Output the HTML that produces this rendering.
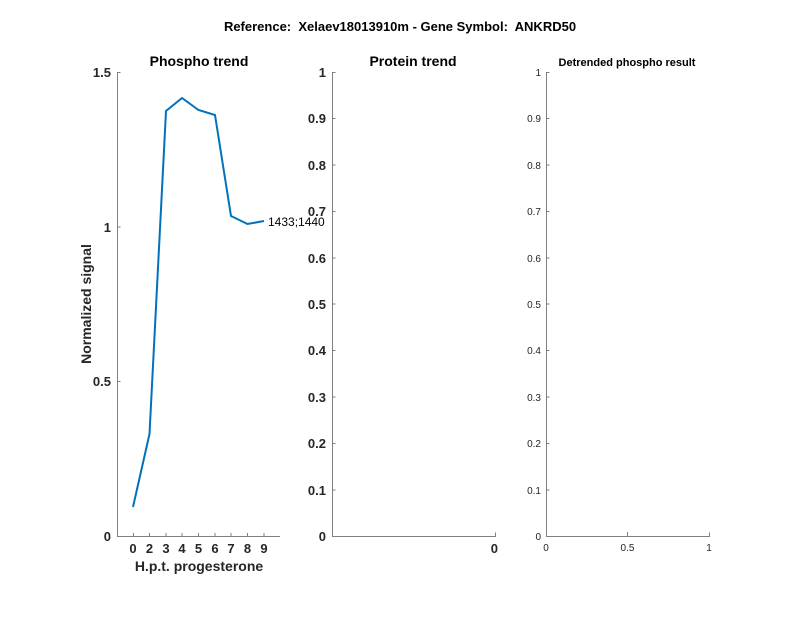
<!DOCTYPE html>
<html><head><style>body{margin:0;background:#fff}svg{display:block}</style></head>
<body>
<svg width="800" height="618" xmlns="http://www.w3.org/2000/svg" font-family="Liberation Sans, sans-serif">
<rect width="800" height="618" fill="#fff"/>
<text x="400" y="31" text-anchor="middle" font-size="13" font-weight="bold" style="white-space:pre">Reference:  Xelaev18013910m - Gene Symbol:  ANKRD50</text>
<!-- Panel 1 -->
<text x="199" y="66" text-anchor="middle" font-size="14" font-weight="bold">Phospho trend</text>
<g stroke="#808080" stroke-width="1" fill="none">
<path d="M117.5 72 V536.5 H280"/>
<path d="M117.5 72.5h3 M117.5 227h3 M117.5 381.5h3"/>
<path d="M133.5 536v-3 M149.5 536v-3 M166 536v-3 M182 536v-3 M198.5 536v-3 M215 536v-3 M231 536v-3 M247.5 536v-3 M264 536v-3"/>
</g>
<g font-size="13" font-weight="bold" fill="#262626">
<text x="111" y="77" text-anchor="end">1.5</text>
<text x="111" y="232" text-anchor="end">1</text>
<text x="111" y="386" text-anchor="end">0.5</text>
<text x="111" y="541" text-anchor="end">0</text>
<g text-anchor="middle">
<text x="133" y="553">0</text><text x="149.5" y="553">2</text><text x="166" y="553">3</text><text x="182" y="553">4</text><text x="198.5" y="553">5</text><text x="215" y="553">6</text><text x="231" y="553">7</text><text x="247.5" y="553">8</text><text x="264" y="553">9</text>
</g>
<text x="199" y="571" text-anchor="middle" font-size="14">H.p.t. progesterone</text>
<text transform="translate(91,304) rotate(-90)" text-anchor="middle" font-size="14">Normalized signal</text>
</g>
<polyline fill="none" stroke="#0072BD" stroke-width="2" points="133,507 149.5,434 166,111 182,98 198.5,110 215,115 231,216 247.5,224 264,221"/>
<text x="268" y="226" font-size="12">1433;1440</text>
<!-- Panel 2 -->
<text x="413" y="66" text-anchor="middle" font-size="14" font-weight="bold">Protein trend</text>
<g stroke="#808080" stroke-width="1" fill="none">
<path d="M332.5 72 V536.5 H495.5 v-4"/>
<path d="M332.5 72.5h3 M332.5 118.5h3 M332.5 165h3 M332.5 211.5h3 M332.5 258h3 M332.5 304h3 M332.5 350.5h3 M332.5 397h3 M332.5 443.5h3 M332.5 490h3"/>
</g>
<g font-size="13" font-weight="bold" fill="#262626" text-anchor="end">
<text x="326" y="77">1</text><text x="326" y="123">0.9</text><text x="326" y="170">0.8</text><text x="326" y="216">0.7</text><text x="326" y="263">0.6</text><text x="326" y="309">0.5</text><text x="326" y="355">0.4</text><text x="326" y="402">0.3</text><text x="326" y="448">0.2</text><text x="326" y="495">0.1</text><text x="326" y="541">0</text>
<text x="498" y="553">0</text>
</g>
<!-- Panel 3 -->
<text x="627" y="66" text-anchor="middle" font-size="11" font-weight="bold">Detrended phospho result</text>
<g stroke="#808080" stroke-width="1" fill="none">
<path d="M546.5 72 V536.5 H709.5 v-4 M627.5 536v-4"/>
<path d="M546.5 72.5h3 M546.5 118.5h3 M546.5 165h3 M546.5 211.5h3 M546.5 258h3 M546.5 304h3 M546.5 350.5h3 M546.5 397h3 M546.5 443.5h3 M546.5 490h3"/>
</g>
<g font-size="10" fill="#262626" text-anchor="end">
<text x="541" y="76">1</text><text x="541" y="122">0.9</text><text x="541" y="169">0.8</text><text x="541" y="215">0.7</text><text x="541" y="262">0.6</text><text x="541" y="308">0.5</text><text x="541" y="354">0.4</text><text x="541" y="401">0.3</text><text x="541" y="447">0.2</text><text x="541" y="494">0.1</text><text x="541" y="540">0</text>
</g>
<g font-size="10" fill="#262626" text-anchor="middle">
<text x="546" y="551">0</text><text x="627.5" y="551">0.5</text><text x="709" y="551">1</text>
</g>
</svg>
</body></html>
